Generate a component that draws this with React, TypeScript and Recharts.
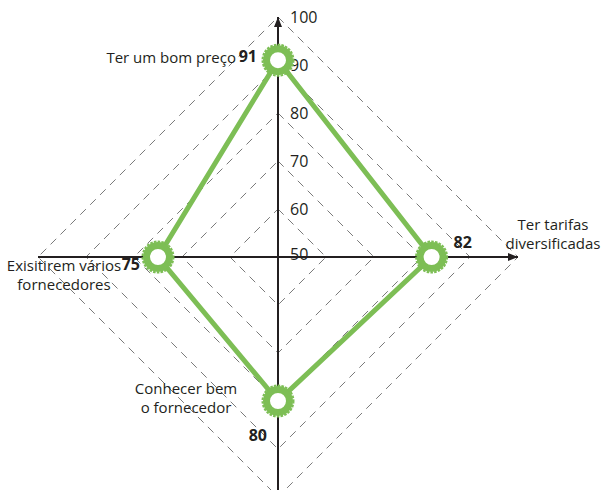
import { PolarAngleAxis, PolarGrid, PolarRadiusAxis, Radar, RadarChart } from "recharts";

const categories = [
  "Ter um bom preço",
  "Ter tarifas diversificadas",
  "Conhecer bem o fornecedor",
  "Exisitirem vários fornecedores",
];
const categoryLines = [
  ["Ter um bom preço"],
  ["Ter tarifas", "diversificadas"],
  ["Conhecer bem", "o fornecedor"],
  ["Exisitirem vários", "fornecedores"],
];
const values = [91, 82, 80, 75];
const radiusTicks = [50, 60, 70, 80, 90, 100];

const data = categories.map((name, i) => ({ name, value: values[i] }));

const GREEN = "#7dbe55";
const INK = "#231f20";
const FONT = "'Open Sans', sans-serif";

// label placement, relative to the axis end (names) or to the point (values)
const nameOffsets = [
  { dx: -42, dy: [48], anchor: "end" },
  { dx: 27, dy: [-33, -14], anchor: "middle" },
  { dx: -92, dy: [-117, -98], anchor: "middle" },
  { dx: 34, dy: [8, 27], anchor: "middle" },
];
const valueOffsets = [
  { dx: -21, dy: -4, anchor: "end" },
  { dx: 22, dy: -15, anchor: "start" },
  { dx: -11, dy: 34, anchor: "end" },
  { dx: -18, dy: 7, anchor: "end" },
];

function AngleTick(props: any) {
  const { x, y, payload } = props;
  const i = props.index ?? categories.indexOf(payload.value);
  const o = nameOffsets[i];
  let arrow = null;
  if (i === 0) {
    const tx = x, ty = y + 8;
    arrow = <path d={`M${tx - 4} ${ty + 10} L${tx} ${ty} L${tx + 4} ${ty + 10} Z`} fill={INK} />;
  } else if (i === 1) {
    const tx = x - 8, ty = y;
    arrow = <path d={`M${tx - 10} ${ty - 4} L${tx} ${ty} L${tx - 10} ${ty + 4} Z`} fill={INK} />;
  }
  return (
    <g>
      {arrow}
      {categoryLines[i].map((line, k) => (
        <text
          key={k}
          x={x + o.dx}
          y={y + o.dy[k]}
          textAnchor={o.anchor}
          dominantBaseline="central"
          fontFamily={FONT}
          fontSize={15}
          fill={INK}
        >
          {line}
        </text>
      ))}
    </g>
  );
}

function RadiusTick(props: any) {
  const { x, y, payload } = props;
  return (
    <text x={x + 12} y={y - (payload.value === 50 ? 3 : 0)} dominantBaseline="central" fontFamily={FONT} fontSize={16} fill={INK}>
      {payload.value}
    </text>
  );
}

function RingDot(props: any) {
  const { cx, cy, index } = props;
  const o = valueOffsets[index];
  return (
    <g key={`dot-${index}`}>
      <circle cx={cx} cy={cy} r={11.5} fill="#fff" stroke={GREEN} strokeWidth={7} />
      <circle cx={cx} cy={cy} r={15.5} fill="none" stroke={GREEN} strokeWidth={2} strokeDasharray="2.6 1.2" />
      <text
        x={cx + o.dx}
        y={cy + o.dy}
        textAnchor={o.anchor}
        dominantBaseline="central"
        fontFamily={FONT}
        fontSize={16}
        fontWeight={700}
        fill={INK}
      >
        {values[index]}
      </text>
    </g>
  );
}

export default function App() {
  return (
    <div style={{ position: "absolute", left: 0, top: 0, width: 602, height: 490, background: "#fff", overflow: "hidden" }}>
      <RadarChart width={602} height={490} data={data} cx={278} cy={257} outerRadius={240} margin={{ top: 0, right: 0, bottom: 0, left: 0 }}>
        <PolarGrid gridType="polygon" radialLines={false} stroke="#7a7a7a" strokeWidth={1} strokeDasharray="8 6" />
        <PolarGrid gridType="polygon" polarRadius={[]} stroke={INK} strokeWidth={2} />
        <PolarAngleAxis dataKey="name" axisLine={false} tickLine={false} tick={AngleTick} />
        <PolarRadiusAxis
          angle={90}
          domain={[50, 100]}
          ticks={radiusTicks as any}
          tickCount={6}
          axisLine={false}
          tickLine={false}
          tick={RadiusTick}
        />
        <Radar
          dataKey="value"
          stroke={GREEN}
          strokeWidth={5}
          fill="none"
          fillOpacity={0}
          dot={RingDot}
          isAnimationActive={false}
        />
      </RadarChart>
    </div>
  );
}
